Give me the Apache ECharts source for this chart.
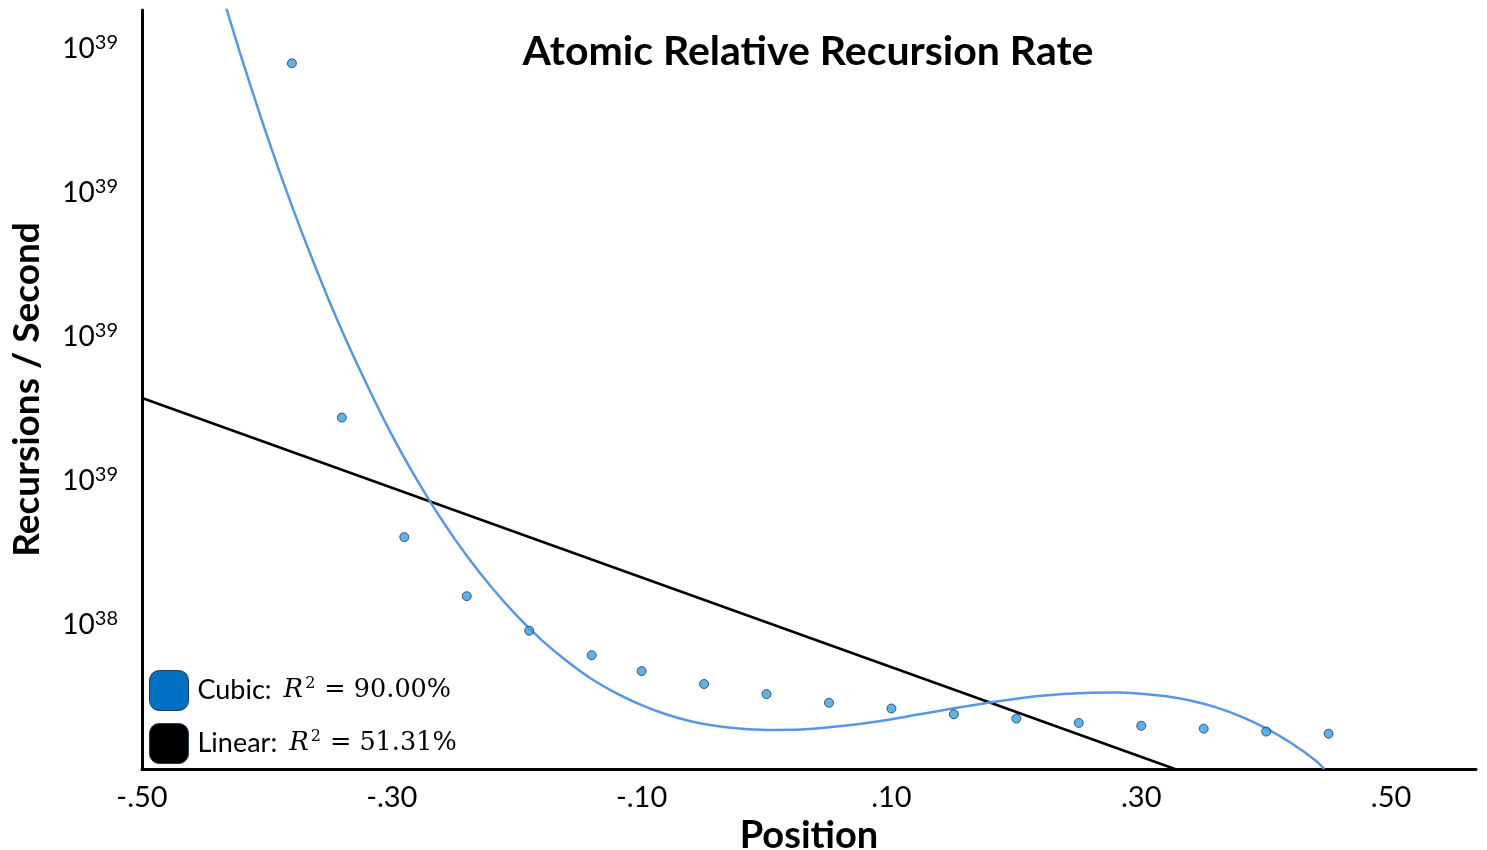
<!DOCTYPE html>
<html>
<head>
<meta charset="utf-8">
<script src="https://cdn.jsdelivr.net/npm/echarts@6/dist/echarts.min.js"></script>
<style>html,body{margin:0;padding:0;background:#fff}#c{width:1487px;height:850px}</style>
</head>
<body>
<div id="c"></div>
<script>
// Observed data points (Position, rate in plot units)
const pointX = [-0.38, -0.34, -0.29, -0.24, -0.19, -0.14, -0.10, -0.05, 0.00, 0.05, 0.10, 0.15, 0.20, 0.25, 0.30, 0.35, 0.40, 0.45];
const pointY = [4.90, 2.44, 1.61, 1.20, 0.96, 0.79, 0.68, 0.59, 0.52, 0.46, 0.42, 0.38, 0.35, 0.32, 0.30, 0.28, 0.26, 0.245];
// Cubic fit curve
const cubicX = [-0.4355, -0.42, -0.40, -0.38, -0.36, -0.34, -0.32, -0.30, -0.28, -0.26, -0.24, -0.22, -0.20, -0.18, -0.16, -0.14, -0.12, -0.10, -0.08, -0.06, -0.04, -0.02, 0.00, 0.02, 0.04, 0.06, 0.08, 0.10, 0.12, 0.14, 0.16, 0.18, 0.20, 0.22, 0.24, 0.26, 0.28, 0.30, 0.32, 0.34, 0.36, 0.38, 0.40, 0.42, 0.44, 0.4465];
const cubicY = [5.37, 4.93, 4.40, 3.91, 3.46, 3.045, 2.67, 2.32, 2.01, 1.73, 1.48, 1.26, 1.065, 0.895, 0.75, 0.625, 0.525, 0.443, 0.378, 0.33, 0.298, 0.279, 0.271, 0.272, 0.282, 0.298, 0.32, 0.346, 0.376, 0.406, 0.436, 0.464, 0.488, 0.508, 0.522, 0.530, 0.531, 0.523, 0.505, 0.474, 0.428, 0.364, 0.282, 0.180, 0.056, 0.0];
// Linear fit endpoints
const linearX = [-0.50, 0.327];
const linearY = [2.576, 0.0];
// Axis tick labels
const xTicks = [-0.5, -0.3, -0.1, 0.1, 0.3, 0.5];
const xTickLabels = ['-.50', '-.30', '-.10', '.10', '.30', '.50'];
const yTicks = [1, 2, 3, 4, 5];
const yTickExp = ['38', '39', '39', '39', '39'];
const fitNames = ['Cubic:', 'Linear:'];
const fitR2 = ['90.00%', '51.31%'];

const zip = (a, b) => a.map((v, i) => [v, b[i]]);
const chart = echarts.init(document.getElementById('c'), null, {renderer: 'canvas'});
const sans = 'Lato';
const option = {
  animation: false,
  backgroundColor: '#ffffff',
  title: {
    text: 'Atomic Relative Recursion Rate',
    left: 808, top: 31, textAlign: 'center', padding: 0,
    textStyle: {fontFamily: sans, fontWeight: 'bold', fontSize: 41, color: '#000'}
  },
  grid: {left: 142, right: 11, top: 10, bottom: 81, outerBoundsMode: 'none', containLabel: false},
  legend: {
    orient: 'vertical', left: 149, top: 670, padding: 0,
    itemWidth: 39, itemHeight: 40, itemGap: 12,
    selectedMode: false,
    data: [
      {name: 'Cubic', icon: 'roundRect', itemStyle: {color: '#0070C0', borderColor: '#1f3a5a', borderWidth: 1}},
      {name: 'Linear', icon: 'roundRect', itemStyle: {color: '#000000', borderColor: '#1f3a5a', borderWidth: 1}}
    ],
    formatter: function (name) {
      const i = name === 'Cubic' ? 0 : 1;
      return '{n|' + fitNames[i] + '}{r|R}{s|2}{m|= ' + fitR2[i] + '}';
    },
    textStyle: {
      padding: [0, 0, 0, 4],
      rich: {
        n: {fontFamily: sans, fontSize: 27, color: '#000', padding: [0, 12, 0, 0]},
        r: {fontFamily: 'DejaVu Serif', fontStyle: 'italic', fontSize: 26, color: '#000'},
        s: {fontFamily: 'DejaVu Serif', fontSize: 16, color: '#000', verticalAlign: 'top', padding: [0, 9, 14, 2]},
        m: {fontFamily: 'DejaVu Serif', fontSize: 25.5, color: '#000'}
      }
    }
  },
  xAxis: {
    type: 'value', min: -0.5, max: 0.568,
    name: 'Position', nameLocation: 'middle', nameGap: 36,
    nameTextStyle: {fontFamily: sans, fontWeight: 'bold', fontSize: 38, color: '#000'},
    axisLine: {show: true, onZero: false, lineStyle: {color: '#000', width: 3}},
    axisTick: {show: false},
    splitLine: {show: false},
    axisLabel: {
      customValues: xTicks, margin: 14,
      fontFamily: sans, fontSize: 29, color: '#000',
      formatter: function (v) {
        let best = 0;
        xTicks.forEach((t, i) => { if (Math.abs(t - v) < Math.abs(xTicks[best] - v)) best = i; });
        return xTickLabels[best];
      }
    }
  },
  yAxis: {
    type: 'value', min: 0, max: 5.27,
    name: 'Recursions / Second', nameLocation: 'middle', nameGap: 96,
    nameTextStyle: {fontFamily: sans, fontWeight: 'bold', fontSize: 37, color: '#000'},
    axisLine: {show: true, onZero: false, lineStyle: {color: '#000', width: 3}},
    axisTick: {show: false},
    splitLine: {show: false},
    axisLabel: {
      customValues: yTicks, margin: 24,
      formatter: function (v) {
        const i = yTicks.indexOf(Math.round(v));
        return '{b|10}{s|' + yTickExp[i] + '}';
      },
      rich: {
        b: {fontFamily: sans, fontSize: 28, color: '#000'},
        s: {fontFamily: sans, fontSize: 20, color: '#000', verticalAlign: 'top', padding: [0, 0, 12, 0]}
      }
    }
  },
  series: [
    {
      name: 'Linear', type: 'line', data: zip(linearX, linearY),
      showSymbol: false, lineStyle: {color: '#000', width: 2.5}, z: 3
    },
    {
      name: 'Cubic', type: 'line', data: zip(cubicX, cubicY), smooth: 0.3,
      showSymbol: false, lineStyle: {color: '#5597E6', width: 2.5}, z: 4
    },
    {
      name: 'Observed', type: 'scatter', data: zip(pointX, pointY),
      symbolSize: 9, itemStyle: {color: '#2EA0F0', borderColor: '#333', borderWidth: 1}, z: 5
    }
  ]
};
chart.setOption(option);
</script>
</body>
</html>
